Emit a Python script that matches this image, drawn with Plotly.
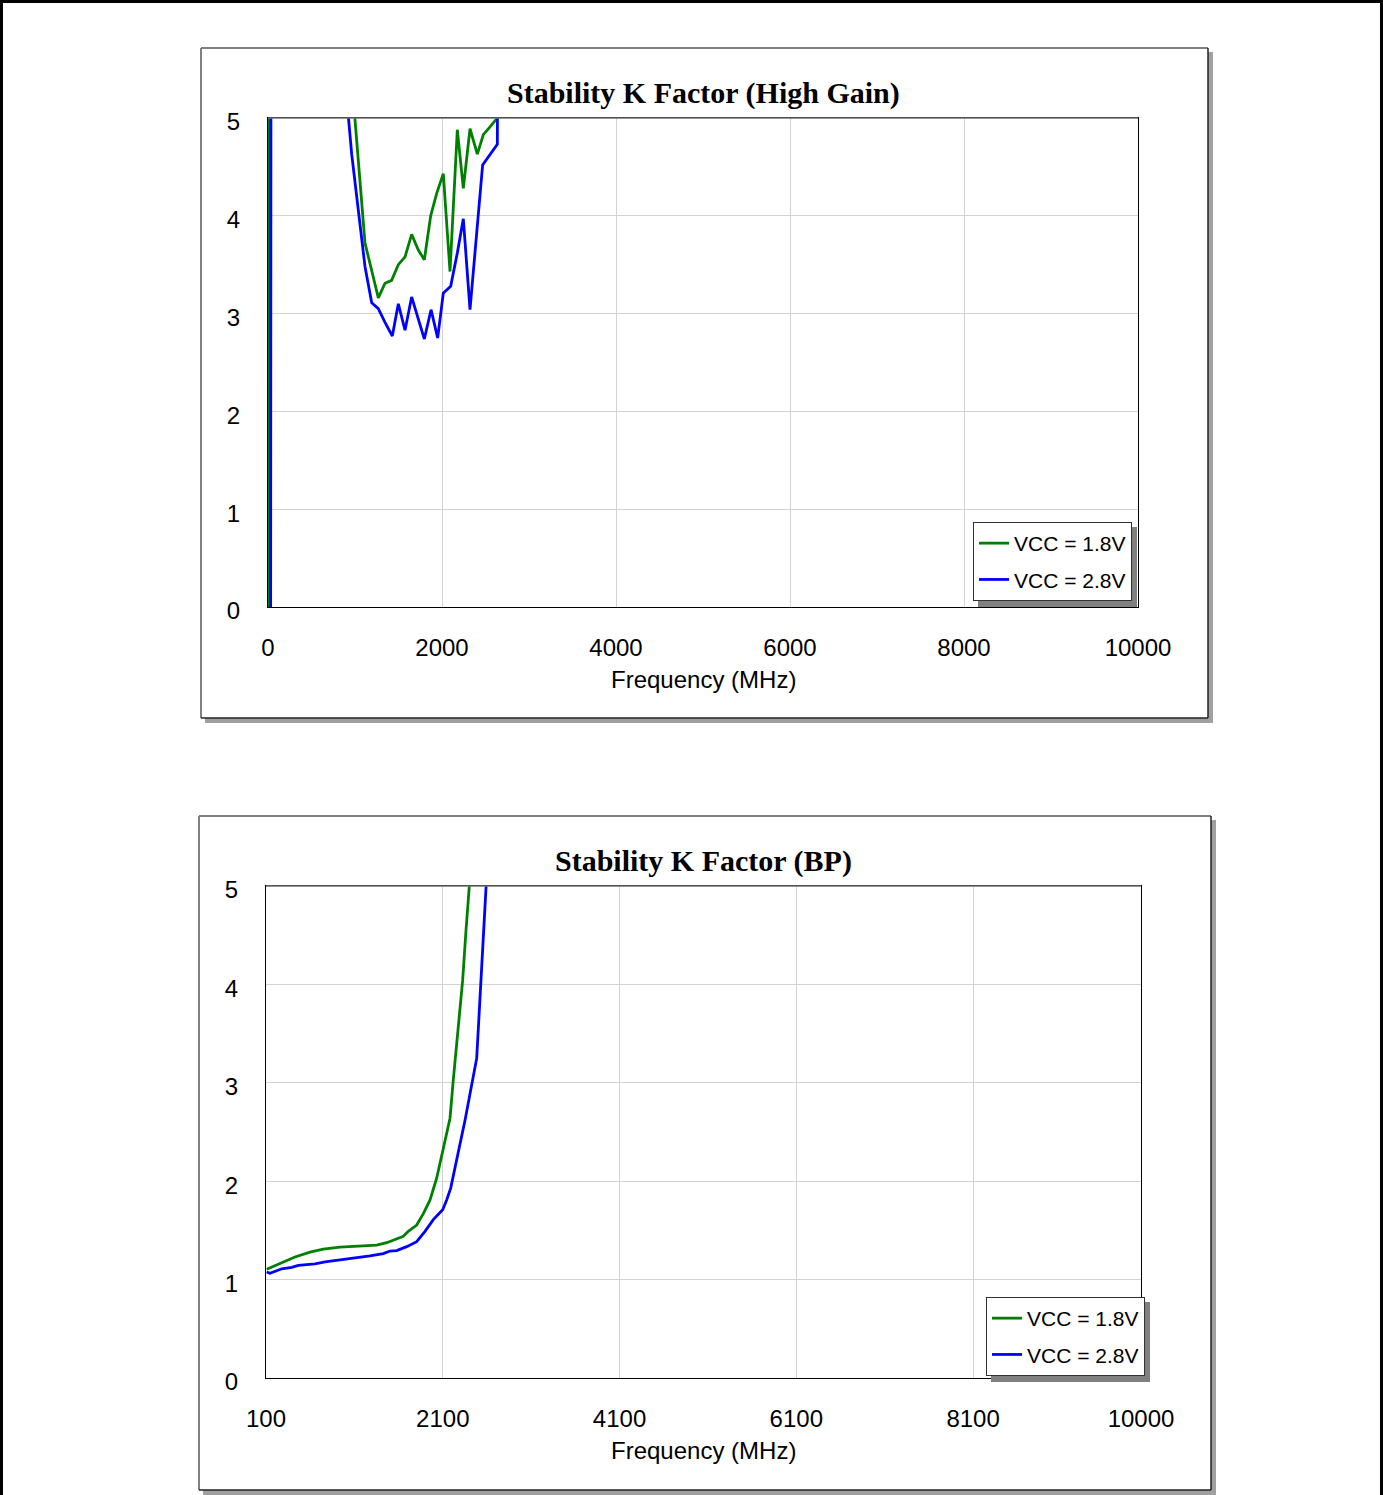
import plotly.graph_objects as go

W, H = 1383, 1495

# ---- data ----
# Stability K factor, high gain mode
hg_freq_18 = [10, 87, 500, 885, 962, 1038, 1115, 1192, 1268, 1345, 1421, 1498, 1575, 1651,
              1728, 1797, 1870, 1939, 2015, 2092, 2176, 2245, 2322, 2406, 2475, 2552, 2636, 2713]
hg_k_18 = [-0.5, 90, 40, 8.0, 5.4, 4.58, 3.72, 3.44, 3.16, 3.31, 3.34, 3.50, 3.58, 3.81,
           3.65, 3.55, 4.00, 4.23, 4.43, 3.43, 4.88, 4.28, 4.89, 4.63, 4.83, 4.91, 5.0, 6.0]
hg_freq_28 = [30, 87, 500, 885, 962, 1038, 1115, 1192, 1268, 1345, 1429, 1498, 1575, 1651,
              1728, 1797, 1874, 1950, 2015, 2100, 2176, 2245, 2322, 2467, 2636, 2713]
hg_k_28 = [-0.5, 90, 40, 5.4, 4.63, 4.06, 3.48, 3.11, 3.05, 2.91, 2.77, 3.10, 2.83, 3.17,
           2.95, 2.74, 3.04, 2.75, 3.21, 3.28, 3.62, 3.97, 3.04, 4.52, 4.73, 20]

# Stability K factor, bypass mode
bp_freq_18 = [108, 296, 428, 598, 748, 937, 1164, 1352, 1466, 1579, 1654, 1710, 1805, 1880,
              1956, 2031, 2106, 2182, 2219, 2276, 2325, 2363, 2408, 2500]
bp_k_18 = [1.105, 1.18, 1.23, 1.28, 1.31, 1.33, 1.34, 1.35, 1.375, 1.41, 1.44, 1.49, 1.555, 1.67,
           1.81, 2.03, 2.32, 2.64, 3.03, 3.60, 4.04, 4.55, 5.0, 6.2]
bp_freq_28 = [108, 145, 278, 391, 466, 654, 768, 937, 1126, 1277, 1427, 1503, 1579, 1692, 1805,
              1899, 1993, 2099, 2144, 2190, 2258, 2352, 2484, 2597, 2700]
bp_k_28 = [1.077, 1.064, 1.11, 1.125, 1.145, 1.16, 1.18, 1.20, 1.22, 1.24, 1.265, 1.29, 1.295,
           1.335, 1.385, 1.49, 1.61, 1.71, 1.81, 1.93, 2.22, 2.62, 3.25, 5.0, 6.8]

series_names = ["VCC = 1.8V", "VCC = 2.8V"]
series_colors = ["#008000", "#0000ff"]

hg_ticks = [0, 2000, 4000, 6000, 8000, 10000]
bp_ticks = [100, 2100, 4100, 6100, 8100, 10000]
k_ticks = [0, 1, 2, 3, 4, 5]


def fx(x):
    return x / W


def fy(y):
    return 1 - y / H


SANS = "Liberation Sans, Arial, sans-serif"
SERIF = "Liberation Serif, Times New Roman, serif"

fig = go.Figure()

# Top chart traces
for name, color, xs, ys, grp in [
    (series_names[0], series_colors[0], hg_freq_18, hg_k_18, "a18"),
    (series_names[1], series_colors[1], hg_freq_28, hg_k_28, "a28"),
]:
    fig.add_trace(go.Scatter(x=xs, y=ys, mode="lines", name=name,
                             line=dict(color=color, width=2.8),
                             xaxis="x", yaxis="y", legend="legend", legendgroup=grp))

# Bottom chart traces
for name, color, xs, ys, grp in [
    (series_names[0], series_colors[0], bp_freq_18, bp_k_18, "b18"),
    (series_names[1], series_colors[1], bp_freq_28, bp_k_28, "b28"),
]:
    fig.add_trace(go.Scatter(x=xs, y=ys, mode="lines", name=name,
                             line=dict(color=color, width=2.8),
                             xaxis="x2", yaxis="y2", legend="legend2", legendgroup=grp))

axis_common = dict(
    showgrid=True, gridcolor="#d3d3d3", gridwidth=1, zeroline=False,
    showline=True, linecolor="black", linewidth=1, mirror=True, ticks="",
    automargin=False,
    tickfont=dict(family=SANS, size=24, color="black"),
)
xaxis_common = dict(ticklabelstandoff=19, **axis_common)
yaxis_common = dict(ticklabelstandoff=22, ticklabelshift=4, **axis_common)

# plot areas in pixels
top_plot = (268, 118, 1138, 607)
bot_plot = (266, 886, 1141, 1378)

# legend boxes in pixels (left, top, right, bottom)
top_leg = (973, 522, 1132, 602)
bot_leg = (986, 1297, 1145, 1377)

legend_style = dict(xanchor="left", yanchor="top", bgcolor="white",
                    bordercolor="#333333", borderwidth=1,
                    font=dict(family=SANS, size=21, color="black"),
                    tracegroupgap=6, itemwidth=30)

fig.update_layout(
    width=W, height=H,
    margin=dict(l=0, r=0, t=0, b=0, autoexpand=False),
    paper_bgcolor="white",
    plot_bgcolor="rgba(0,0,0,0)",
    xaxis=dict(domain=[fx(top_plot[0]), fx(top_plot[2])], range=[0, 10000],
               tickvals=hg_ticks, ticktext=[str(t) for t in hg_ticks],
               anchor="y", **xaxis_common),
    yaxis=dict(domain=[fy(top_plot[3]), fy(top_plot[1])], range=[0, 5],
               tickvals=k_ticks, anchor="x", **yaxis_common),
    xaxis2=dict(domain=[fx(bot_plot[0]), fx(bot_plot[2])], range=[100, 10000],
                tickvals=bp_ticks, ticktext=[str(t) for t in bp_ticks],
                anchor="y2", **xaxis_common),
    yaxis2=dict(domain=[fy(bot_plot[3]), fy(bot_plot[1])], range=[0, 5],
                tickvals=k_ticks, anchor="x2", **yaxis_common),
    legend=dict(x=fx(top_leg[0]), y=fy(top_leg[1]), **legend_style),
    legend2=dict(x=fx(bot_leg[0]), y=fy(bot_leg[1]), **legend_style),
)

shapes = []
# page border
shapes.append(dict(type="rect", xref="paper", yref="paper", x0=fx(1.5), y0=fy(1500),
                   x1=fx(1381.5), y1=fy(1.5), line=dict(color="black", width=3), layer="below"))

# panels with drop shadow
for (x0, y0, x1, y1) in [(201, 48, 1208, 718), (199, 816, 1211, 1490)]:
    shapes.append(dict(type="rect", xref="paper", yref="paper", x0=fx(x0 + 4), y0=fy(y1 + 5),
                       x1=fx(x1 + 5), y1=fy(y0 + 4), fillcolor="#a0a0a0",
                       line=dict(width=0), layer="below"))
    shapes.append(dict(type="rect", xref="paper", yref="paper", x0=fx(x0), y0=fy(y1),
                       x1=fx(x1), y1=fy(y0), fillcolor="white",
                       line=dict(width=0), layer="below"))
    shapes.append(dict(type="line", xref="paper", yref="paper", x0=fx(x0), y0=fy(y0),
                       x1=fx(x1), y1=fy(y0), line=dict(color="#808080", width=2), layer="below"))
    shapes.append(dict(type="line", xref="paper", yref="paper", x0=fx(x0), y0=fy(y0),
                       x1=fx(x0), y1=fy(y1), line=dict(color="#808080", width=2), layer="below"))
    shapes.append(dict(type="line", xref="paper", yref="paper", x0=fx(x0), y0=fy(y1),
                       x1=fx(x1), y1=fy(y1), line=dict(color="#222222", width=1.5), layer="below"))
    shapes.append(dict(type="line", xref="paper", yref="paper", x0=fx(x1), y0=fy(y0),
                       x1=fx(x1), y1=fy(y1), line=dict(color="#222222", width=1.5), layer="below"))

# gray top edge of each plot frame
for (x0, y0, x1, y1) in [top_plot, bot_plot]:
    shapes.append(dict(type="line", xref="paper", yref="paper", x0=fx(x0), y0=fy(y0),
                       x1=fx(x1), y1=fy(y0), line=dict(color="#707070", width=1.5), layer="above"))

# legend shadows
for (x0, y0, x1, y1) in [top_leg, bot_leg]:
    shapes.append(dict(type="rect", xref="paper", yref="paper", x0=fx(x0 + 5), y0=fy(y1 + 5),
                       x1=fx(x1 + 5), y1=fy(y0 + 5), fillcolor="#808080",
                       line=dict(width=0), layer="above"))

fig.update_layout(shapes=shapes)

annotations = [
    dict(text="<b>Stability K Factor (High Gain)</b>", x=fx(703), y=fy(93)),
    dict(text="<b>Stability K Factor (BP)</b>", x=fx(703.5), y=fy(861)),
]
for a in annotations:
    a.update(xref="paper", yref="paper", xanchor="center", yanchor="middle", showarrow=False,
             font=dict(family=SERIF, size=30, color="black"))
for xc, yc in [(703, 680), (703.5, 1450)]:
    annotations.append(dict(text="Frequency (MHz)", x=fx(xc), y=fy(yc), xref="paper", yref="paper",
                            xanchor="center", yanchor="middle", showarrow=False,
                            font=dict(family=SANS, size=24, color="black")))
fig.update_layout(annotations=annotations)

# no page margin, so the figure sits flush with the window
fig.write_html("out.html", config={"displayModeBar": False},
               post_script="document.body.style.margin='0';document.body.style.overflow='hidden';")
